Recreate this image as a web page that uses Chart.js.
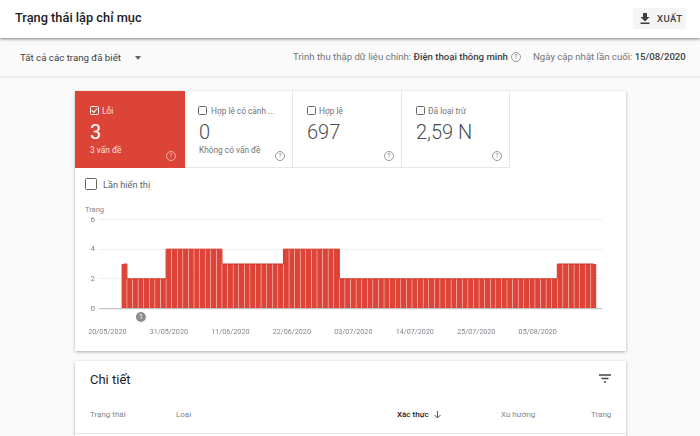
<!DOCTYPE html>
<html>
<head>
<meta charset="utf-8">
<script src="https://cdn.jsdelivr.net/npm/chart.js@4"></script>
<style>
  html, body { margin: 0; padding: 0; }
  body { width: 700px; height: 436px; overflow: hidden; position: relative; background: #fafafa; font-family: Roboto, sans-serif; color: #5f6368; }
  .abs, .t { position: absolute; }
  .t { white-space: nowrap; line-height: 1; }
  #header { left: 0; top: 0; width: 700px; height: 38px; background: #fff; box-shadow: 0 1px 3px rgba(0,0,0,.5); z-index: 2; }
  #rule { left: 0; top: 76px; width: 700px; height: 2px; background: #eee; }
  .card { background: #fff; box-shadow: 0 1px 3px rgba(0,0,0,.3); }
  .tab { top: 91px; height: 77px; border-right: 1px solid #e6e6e6; border-bottom: 1px solid #e6e6e6; box-sizing: border-box; }
  .box { position: absolute; box-sizing: border-box; border: 1.5px solid #666; border-radius: 1.5px; }
  .help { position: absolute; box-sizing: border-box; width: 10px; height: 10px; border: 1px solid #999; border-radius: 50%; color: #888; font-size: 7px; line-height: 8px; text-align: center; }
  .num { font-size: 20px; font-weight: 300; color: #4a4d51; }
  .lbl { font-size: 8.3px; color: #70757a; }
</style>
</head>
<body>
<div class="abs" id="header"></div>
<div class="t" style="left:15px;top:12px;font-size:12.8px;font-weight:500;color:#202124;z-index:3">Trạng thái lập chỉ mục</div>
<div class="abs" style="left:633px;top:8px;width:53px;height:21px;background:#f5f5f5;z-index:3"></div>
<svg class="abs" style="left:639px;top:12px;z-index:4" width="12" height="13" viewBox="0 0 12 13"><path d="M4 1h4v4h2.5L6 9.5 1.5 5H4zM1.5 10.5h9V12h-9z" fill="#3c4043"/></svg>
<div class="t" style="left:657px;top:14px;font-size:9.5px;font-weight:500;letter-spacing:.5px;color:#3c4043;z-index:4">XUẤT</div>

<div class="t" style="left:20px;top:53px;font-size:9.7px;color:#3c4043">Tất cả các trang đã biết</div>
<div class="abs" style="left:135px;top:56px;width:0;height:0;border:3.5px solid transparent;border-top:4px solid #5f6368"></div>
<div class="t" style="left:293px;top:52px;font-size:9.6px;color:#70757a">Trình thu thập dữ liệu chính: <span style="color:#3c4043;font-weight:500">Điện thoại thông minh</span></div>
<div class="help" style="left:511px;top:52px;">?</div>
<div class="t" style="left:533px;top:52px;font-size:9.6px;color:#70757a">Ngày cập nhật lần cuối: <span style="color:#3c4043;font-weight:500">15/08/2020</span></div>
<div class="abs" id="rule"></div>

<div class="abs card" style="left:75px;top:91px;width:551px;height:260px"></div>
<div class="abs tab" style="left:75px;width:110px;background:#db4437;border:0"></div>
<div class="abs tab" style="left:185px;width:108px"></div>
<div class="abs tab" style="left:293px;width:109px"></div>
<div class="abs tab" style="left:402px;width:108px"></div>

<div class="box" style="left:90px;top:106px;width:9px;height:9px;border-color:#fff"></div>
<svg class="abs" style="left:91px;top:107px" width="7" height="7" viewBox="0 0 7 7"><path d="M1 3.5l2 2L6 1.5" fill="none" stroke="#fff" stroke-width="1.1"/></svg>
<div class="t" style="left:102px;top:107px;font-size:8.3px;color:#fbe3e0">Lỗi</div>
<div class="t" style="left:90px;top:122px;font-size:20px;font-weight:400;color:#fff">3</div>
<div class="t" style="left:90px;top:146px;font-size:8.4px;color:#fbe3e0">3 vấn đề</div>
<div class="help" style="left:166px;top:151px;border-color:#f3b5ae;color:#f3b5ae">?</div>

<div class="box" style="left:198px;top:106px;width:9px;height:9px"></div>
<div class="t lbl" style="left:211px;top:107px">Hợp lệ có cảnh ...</div>
<div class="t num" style="left:199px;top:122px">0</div>
<div class="t lbl" style="left:199px;top:146px">Không có vấn đề</div>
<div class="help" style="left:275px;top:151px">?</div>

<div class="box" style="left:307px;top:106px;width:9px;height:9px"></div>
<div class="t lbl" style="left:319px;top:107px">Hợp lệ</div>
<div class="t num" style="left:307px;top:122px">697</div>
<div class="help" style="left:384px;top:151px">?</div>

<div class="box" style="left:416px;top:106px;width:9px;height:9px"></div>
<div class="t lbl" style="left:428px;top:107px">Đã loại trừ</div>
<div class="t num" style="left:416px;top:122px">2,59 N</div>
<div class="help" style="left:492px;top:151px">?</div>

<div class="box" style="left:85px;top:178px;width:12px;height:12px;border-color:#666"></div>
<div class="t" style="left:103px;top:180px;font-size:9.2px;color:#5f6368">Lần hiển thị</div>
<div class="t" style="left:85px;top:206px;font-size:7.5px;color:#80868b">Trang</div>

<div class="abs" style="left:75px;top:200px;width:551px;height:145px"><canvas id="chartPages"></canvas></div>

<div class="abs card" style="left:75px;top:361px;width:551px;height:90px"></div>
<div class="t" style="left:90px;top:373px;font-size:13px;color:#202124">Chi tiết</div>
<svg class="abs" style="left:599px;top:374px" width="12" height="10" viewBox="0 0 12 10"><path d="M0 1h12M2.5 4.5h7M5 8h2" stroke="#444" stroke-width="1.3"/></svg>
<div class="t" style="left:90px;top:411px;font-size:8px;color:#80868b">Trạng thái</div>
<div class="t" style="left:176px;top:411px;font-size:8px;color:#80868b">Loại</div>
<div class="t" style="left:397px;top:411px;font-size:8px;font-weight:500;color:#202124">Xác thực</div>
<svg class="abs" style="left:433px;top:410px" width="9" height="9" viewBox="0 0 9 9"><path d="M4.5 1v7M1.5 5l3 3 3-3" fill="none" stroke="#555" stroke-width="1"/></svg>
<div class="t" style="left:501px;top:411px;font-size:8px;color:#80868b">Xu hướng</div>
<div class="t" style="left:591px;top:411px;font-size:8px;color:#80868b">Trang</div>
<div class="abs" style="left:75px;top:433px;width:551px;height:1px;background:#e6e6e6"></div>

<script>
const days = [
  "19/05/2020","20/05/2020","21/05/2020","22/05/2020","23/05/2020","24/05/2020","25/05/2020","26/05/2020","27/05/2020","28/05/2020","29/05/2020","30/05/2020","31/05/2020",
  "01/06/2020","02/06/2020","03/06/2020","04/06/2020","05/06/2020","06/06/2020","07/06/2020","08/06/2020","09/06/2020","10/06/2020","11/06/2020","12/06/2020","13/06/2020","14/06/2020","15/06/2020","16/06/2020","17/06/2020","18/06/2020","19/06/2020","20/06/2020","21/06/2020","22/06/2020","23/06/2020","24/06/2020","25/06/2020","26/06/2020","27/06/2020","28/06/2020","29/06/2020","30/06/2020",
  "01/07/2020","02/07/2020","03/07/2020","04/07/2020","05/07/2020","06/07/2020","07/07/2020","08/07/2020","09/07/2020","10/07/2020","11/07/2020","12/07/2020","13/07/2020","14/07/2020","15/07/2020","16/07/2020","17/07/2020","18/07/2020","19/07/2020","20/07/2020","21/07/2020","22/07/2020","23/07/2020","24/07/2020","25/07/2020","26/07/2020","27/07/2020","28/07/2020","29/07/2020","30/07/2020","31/07/2020",
  "01/08/2020","02/08/2020","03/08/2020","04/08/2020","05/08/2020","06/08/2020","07/08/2020","08/08/2020","09/08/2020","10/08/2020","11/08/2020","12/08/2020","13/08/2020","14/08/2020","15/08/2020","16/08/2020"
];

// null = no data that day (19-22/05 and 16/08)
const errorPages = [
  null,null,null,null,3,2,2,2,2,2,2,2,4,
  4,4,4,4,4,4,4,4,4,3,3,3,3,3,3,3,3,3,3,3,4,4,4,4,4,4,4,4,4,4,
  2,2,2,2,2,2,2,2,2,2,2,2,2,2,2,2,2,2,2,2,2,2,2,2,2,2,2,2,2,2,2,
  2,2,2,2,2,2,2,2,3,3,3,3,3,3,3,null
];

const xTickLabels = ["20/05/2020","31/05/2020","11/06/2020","22/06/2020","03/07/2020","14/07/2020","25/07/2020","05/08/2020"];
const yTickValues = [0, 2, 4, 6];
const annotationDays = ["26/05/2020"];

// small numbered grey circles under the axis
const annotationPlugin = {
  id: "annotationMarks",
  afterDraw(chart) {
    const { ctx, scales } = chart;
    annotationDays.forEach((day, i) => {
      const x = scales.x.getPixelForValue(days.indexOf(day));
      const y = scales.y.getPixelForValue(0) + 8.5;
      ctx.save();
      ctx.fillStyle = "#8f8f8f";
      ctx.beginPath();
      ctx.arc(x, y, 5, 0, Math.PI * 2);
      ctx.fill();
      ctx.fillStyle = "#fff";
      ctx.font = "7px Roboto";
      ctx.textAlign = "center";
      ctx.textBaseline = "middle";
      ctx.fillText(String(i + 1), x, y + 0.5);
      ctx.restore();
    });
  },
};

new Chart(document.getElementById("chartPages"), {
  data: {
    labels: days,
    datasets: [
      {
        type: "line",
        data: errorPages,
        stepped: "middle",
        borderColor: "#d9301f",
        borderWidth: 1,
        pointRadius: 0,
        order: 0,
      },
      {
        type: "bar",
        data: errorPages,
        backgroundColor: "#dd4336",
        borderWidth: 0,
        barPercentage: 1,
        categoryPercentage: 0.92,
        order: 1,
      },
    ],
  },
  options: {
    responsive: true,
    maintainAspectRatio: false,
    animation: false,
    layout: { padding: { top: 19.5, right: 24 } },
    plugins: { legend: { display: false }, tooltip: { enabled: false } },
    scales: {
      x: {
        offset: true,
        border: { display: false },
        grid: { display: false, drawTicks: false },
        afterFit: (scale) => { scale.height = 36.5; },
        ticks: {
          autoSkip: false,
          maxRotation: 0,
          padding: 19,
          color: "#80868b",
          font: { family: "Roboto", size: 7.2 },
          callback(value) {
            const label = this.getLabelForValue(value);
            return xTickLabels.includes(label) ? label : "";
          },
        },
      },
      y: {
        min: 0,
        max: 6,
        border: { display: false },
        afterFit: (scale) => { scale.width = 24; },
        afterBuildTicks: (scale) => { scale.ticks = yTickValues.map((value) => ({ value })); },
        grid: {
          drawTicks: false,
          color: (ctx) => (ctx.tick.value === 0 ? "#c4c4c4" : "#eeeeee"),
          lineWidth: (ctx) => (ctx.tick.value === 0 ? 1.2 : 1),
        },
        ticks: {
          padding: 4,
          color: "#80868b",
          font: { family: "Roboto", size: 8 },
        },
      },
    },
  },
  plugins: [annotationPlugin],
});
</script>
</body>
</html>
